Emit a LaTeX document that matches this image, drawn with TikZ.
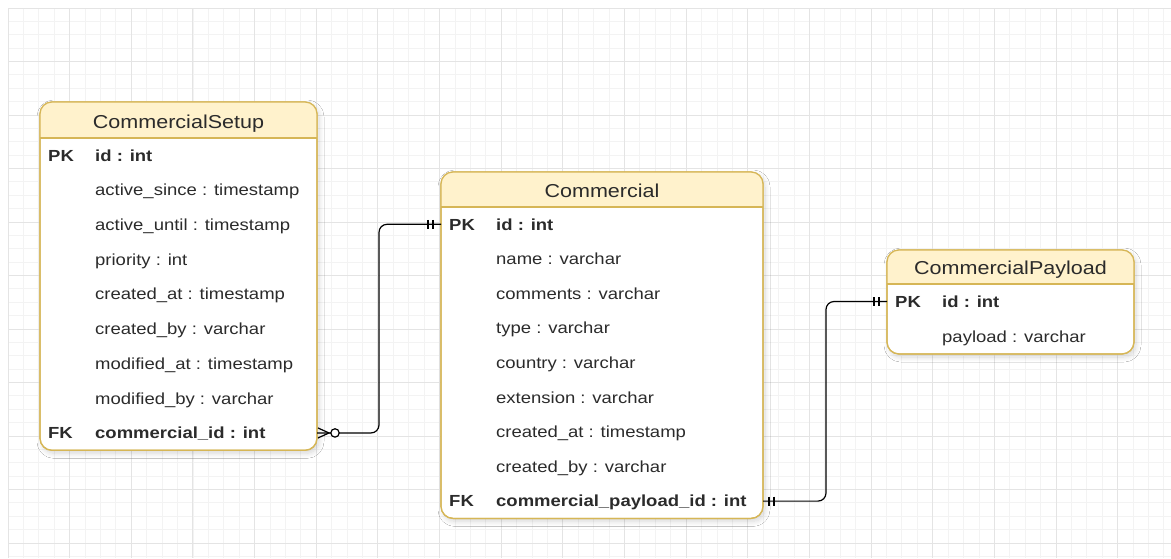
\documentclass[tikz,border=0pt]{standalone}
\usepackage{fontspec}
\setmainfont{Liberation Sans}[FakeStretch=1.152]
\usetikzlibrary{calc,shadows.blur}

\definecolor{hdrfill}{HTML}{FFF2CC}
\definecolor{hdrline}{HTML}{D6B656}
\definecolor{gmajor}{HTML}{E4E4E4}
\definecolor{gminor}{HTML}{F3F3F3}
\definecolor{txt}{HTML}{2B2B2B}

\newcommand\cellfont{\fontsize{16.05}{19}\selectfont}
\newcommand\titlefont{\fontsize{18.7}{22}\selectfont}

% yellow header band of a table node, with its bottom rule and the outline on top
\newcommand\headerfill[2]{%
  \begin{scope}
    \clip (#1.north west) rectangle ($(#1.north east)+(0,#2)$);
    \fill[hdrfill, rounded corners=12pt] (#1.north west) rectangle (#1.south east);
  \end{scope}
  \draw[outline] ($(#1.north west)+(0,#2)$) -- ($(#1.north east)+(0,#2)$);
  \draw[outline, rounded corners=12pt] (#1.north west) rectangle (#1.south east);
}

% one attribute row: name, top edge, key column, field text, extra font
\newcommand\erow[5]{%
  \node[rowbox, anchor=north] (#1) at #2 {};
  \if\relax\detokenize{#3}\relax\else
    \node[celltxt, font={\cellfont#5}] (#1-key) at ($(#1.west)+(8,5.75)$) {#3};
  \fi
  \node[celltxt, font={\cellfont#5}] (#1-field) at ($(#1.west)+(55,5.75)$) {#4};
}

\begin{document}
\begin{tikzpicture}[x=1pt, y=-1pt,
  outline/.style={draw=hdrline, line width=1.2pt},
  tablebox/.style={draw=hdrline, line width=1.2pt, fill=white, rounded corners=12pt,
    inner sep=0pt, outer sep=0pt,
    blur shadow={shadow xshift=2pt, shadow yshift=-3pt, shadow blur radius=5pt,
      shadow blur steps=10, shadow opacity=16}},
  rowbox/.style={minimum width=\tw, minimum height=\rh, inner sep=0pt, outer sep=0pt},
  celltxt/.style={anchor=base west, inner sep=0pt, text=txt},
  titletxt/.style={anchor=base, inner sep=0pt, text=txt, font=\titlefont},
  conn/.style={draw=black, line width=1.2pt},
]
\useasboundingbox (0,0) rectangle (1171,558);
\fill[white] (0,0) rectangle (1171,558);

% background grid
\begin{scope}
  \clip (8,8) rectangle (1171,558);
  \foreach \k in {0,...,75} \draw[gminor, line width=0.9pt] ({8+15.4125*\k},8) -- ({8+15.4125*\k},558);
  \foreach \k in {0,...,41} \draw[gminor, line width=0.9pt] (8,{8+13.375*\k}) -- (1171,{8+13.375*\k});
  \foreach \k in {0,...,18} \draw[gmajor, line width=1pt] ({8+61.65*\k},8) -- ({8+61.65*\k},558);
  \foreach \k in {0,...,10} \draw[gmajor, line width=1pt] (8,{8+53.5*\k}) -- (1171,{8+53.5*\k});
\end{scope}

% CommercialSetup
\def\tw{277pt}\def\rh{34.7pt}
\node[tablebox, minimum width=\tw, minimum height=348.3pt, anchor=north west] (setup) at (40,102) {};
\headerfill{setup}{36}
\node[titletxt] (setup-title) at ($(setup.north)+(0,26)$) {CommercialSetup};
\erow{setup-r1}{($(setup.north)+(0,36)$)}{PK}{id : int}{\bfseries}
\erow{setup-r2}{(setup-r1.south)}{}{active\_since : timestamp}{}
\erow{setup-r3}{(setup-r2.south)}{}{active\_until : timestamp}{}
\erow{setup-r4}{(setup-r3.south)}{}{priority : int}{}
\erow{setup-r5}{(setup-r4.south)}{}{created\_at : timestamp}{}
\erow{setup-r6}{(setup-r5.south)}{}{created\_by : varchar}{}
\erow{setup-r7}{(setup-r6.south)}{}{modified\_at : timestamp}{}
\erow{setup-r8}{(setup-r7.south)}{}{modified\_by : varchar}{}
\erow{setup-r9}{(setup-r8.south)}{FK}{commercial\_id : int}{\bfseries}

% Commercial
\def\tw{322pt}\def\rh{34.6pt}
\node[tablebox, minimum width=\tw, minimum height=346.4pt, anchor=north west] (com) at (441,172) {};
\headerfill{com}{35}
\node[titletxt] (com-title) at ($(com.north)+(0,25)$) {Commercial};
\erow{com-r1}{($(com.north)+(0,35)$)}{PK}{id : int}{\bfseries}
\erow{com-r2}{(com-r1.south)}{}{name : varchar}{}
\erow{com-r3}{(com-r2.south)}{}{comments : varchar}{}
\erow{com-r4}{(com-r3.south)}{}{type : varchar}{}
\erow{com-r5}{(com-r4.south)}{}{country : varchar}{}
\erow{com-r6}{(com-r5.south)}{}{extension : varchar}{}
\erow{com-r7}{(com-r6.south)}{}{created\_at : timestamp}{}
\erow{com-r8}{(com-r7.south)}{}{created\_by : varchar}{}
\erow{com-r9}{(com-r8.south)}{FK}{commercial\_payload\_id : int}{\bfseries}

% CommercialPayload
\def\tw{247pt}\def\rh{35pt}
\node[tablebox, minimum width=\tw, minimum height=104pt, anchor=north west] (pay) at (887,250) {};
\headerfill{pay}{34}
\node[titletxt] (pay-title) at ($(pay.north)+(0,24.5)$) {CommercialPayload};
\erow{pay-r1}{($(pay.north)+(0,34)$)}{PK}{id : int}{\bfseries}
\erow{pay-r2}{(pay-r1.south)}{}{payload : varchar}{}

% relationships
\draw[conn, rounded corners=8pt] (setup-r9.east) -| ($(com-r1.west)+(-62,0)$) -- (com-r1.west);
\draw[conn, rounded corners=8pt] (com-r9.east) -| ($(pay-r1.west)+(-61,0)$) -- (pay-r1.west);

% zero-or-many end at CommercialSetup
\draw[conn] ($(setup-r9.east)+(1,-5)$) -- ($(setup-r9.east)+(12,0)$) -- ($(setup-r9.east)+(1,5)$);
\draw[conn, fill=white] ($(setup-r9.east)+(18,0)$) circle (4.2pt);
% exactly-one ends
\draw[conn] ($(com-r1.west)+(-13,-4.5)$) -- ++(0,9);
\draw[conn] ($(com-r1.west)+(-8,-4.5)$) -- ++(0,9);
\draw[conn] ($(com-r9.east)+(6,-4.5)$) -- ++(0,9);
\draw[conn] ($(com-r9.east)+(11,-4.5)$) -- ++(0,9);
\draw[conn] ($(pay-r1.west)+(-13,-4.5)$) -- ++(0,9);
\draw[conn] ($(pay-r1.west)+(-8,-4.5)$) -- ++(0,9);
\end{tikzpicture}
\end{document}
